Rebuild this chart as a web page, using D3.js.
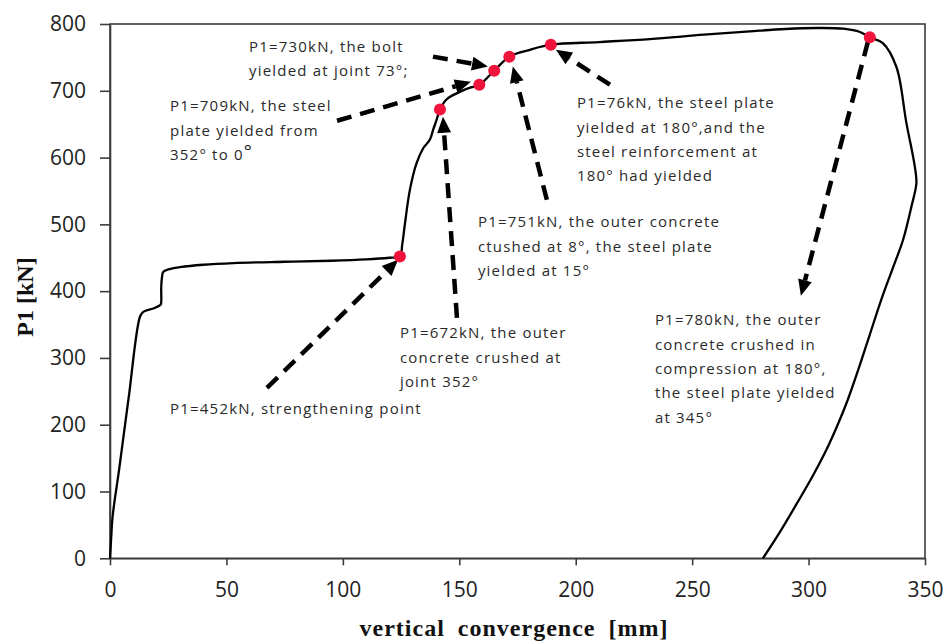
<!DOCTYPE html>
<html>
<head>
<meta charset="utf-8">
<script src="https://cdn.jsdelivr.net/npm/d3@7/dist/d3.min.js"></script>
<style>
  html, body { margin: 0; padding: 0; background: #fff; }
  svg { display: block; }
</style>
</head>
<body>
<script>
// Load–convergence curve (vertical convergence in mm, P1 in kN)
const convMm = [0, 0.5, 1.1, 4, 8, 12.9, 14.3, 18.6, 21.5, 21.9, 22.0, 22.3, 22.9, 26, 30, 40, 53, 75, 95, 110, 120, 124.5,
  125.5, 126.7, 128.8, 131.7, 134.5, 137.4, 138.8, 140.3, 141.7, 144.5, 150, 155, 158.6, 165, 171.5, 180, 189.3,
  210, 231.9, 255, 274.8, 290, 303.4, 314.9, 322.1, 326.3, 331.9, 337.7, 342, 345.6, 346.3, 344.2, 340.6, 335.9,
  331.2, 326.3, 321.6, 316.8, 312.5, 307.6, 301.6, 294.8, 287.8, 280.4];
const loadKN = [0, 30, 62, 135, 240, 362, 369, 374, 379, 381, 405, 420, 429, 433.5, 436, 439.5, 442, 444, 445.5, 447.5, 450, 452,
  470, 502, 552, 592, 614, 627, 642, 657, 672, 687, 698, 705, 709, 730, 751, 761, 769,
  773, 777.5, 784, 789, 792.5, 794, 793, 788, 780, 771.5, 736, 652, 587, 562, 527, 477, 432,
  387, 335, 285, 237, 200, 162, 122, 81, 40, 0];

// Key events marked on the curve
const keyConv = [124.5, 141.7, 158.6, 165, 171.5, 189.3, 326.3];
const keyLoad = [452, 672, 709, 730, 751, 769, 780];

// Axis ticks
const xTicks = [0, 50, 100, 150, 200, 250, 300, 350];
const yTicks = [0, 100, 200, 300, 400, 500, 600, 700, 800];

// Callout texts, each with its arrow (tail -> head) and text anchor, in axis units
const callouts = [
  { lines: ["P1=452kN, strengthening point"], text: [25.8, 223.7], from: [67.4, 255.2], to: [123.7, 446.9] },
  { lines: ["P1=672kN, the outer", "concrete crushed at", "joint 352°"], text: [124.5, 337.5], from: [149.0, 360.0], to: [143.0, 661.1] },
  { lines: ["P1=709kN, the steel", "plate yielded from", "352° to 0"], sup: 2, text: [25.8, 677.6], from: [97.5, 655.1], to: [155.0, 713.5] },
  { lines: ["P1=730kN, the bolt", "yielded at joint 73°;"], text: [59.7, 766.4], from: [138.7, 751.2], to: [162.3, 736.3] },
  { lines: ["P1=751kN, the outer concrete", "ctushed at 8°, the steel plate", "yielded at 15°"], text: [158.0, 503.8], from: [187.6, 536.8], to: [173.0, 736.3] },
  { lines: ["P1=76kN, the steel plate", "yielded at 180°,and the", "steel reinforcement at", "180° had yielded"], text: [200.5, 682.1], from: [214.7, 709.1], to: [191.5, 761.5] },
  { lines: ["P1=780kN, the outer", "concrete crushed in", "compression at 180°,", "the steel plate yielded", "at 345°"], text: [234.0, 357.0], from: [325.5, 773.5], to: [296.7, 393.0] }
];

const W = 945, H = 641;
const svg = d3.select("body").append("svg").attr("width", W).attr("height", H);

const x = d3.scaleLinear().domain([0, 350]).range([110, 925]);
const y = d3.scaleLinear().domain([0, 800]).range([558.3, 24]);

const axisColor = "#3c3c3c";
const tickFont = "'Open Sans', 'Noto Sans', sans-serif";

// Plot frame
svg.append("rect")
  .attr("x", x(0)).attr("y", y(800))
  .attr("width", x(350) - x(0)).attr("height", y(0) - y(800))
  .attr("fill", "none").attr("stroke", axisColor).attr("stroke-width", 1.6);

// Y axis
const yAxis = svg.append("g")
  .attr("transform", `translate(${x(0)},0)`)
  .call(d3.axisLeft(y).tickValues(yTicks).tickSize(10).tickPadding(14).tickSizeOuter(0));
// X axis
const xAxis = svg.append("g")
  .attr("transform", `translate(0,${y(0)})`)
  .call(d3.axisBottom(x).tickValues(xTicks).tickSize(7).tickPadding(17).tickSizeOuter(0));

[xAxis, yAxis].forEach(g => {
  g.select(".domain").attr("stroke", axisColor).attr("stroke-width", 1.6);
  g.selectAll(".tick line").attr("stroke", axisColor).attr("stroke-width", 1.6);
  g.selectAll(".tick text")
    .attr("font-family", tickFont).attr("font-size", 21).attr("fill", "#222");
});

// Axis titles
svg.append("text")
  .attr("x", 514).attr("y", 636)
  .attr("text-anchor", "middle")
  .attr("font-family", "'Liberation Serif', 'Times New Roman', serif")
  .attr("font-weight", "bold").attr("font-size", 24)
  .attr("letter-spacing", 1).attr("word-spacing", 6)
  .attr("fill", "#111")
  .text("vertical convergence [mm]");

svg.append("text")
  .attr("transform", "translate(33,297) rotate(-90)")
  .attr("text-anchor", "middle")
  .attr("font-family", "'Liberation Serif', 'Times New Roman', serif")
  .attr("font-weight", "bold").attr("font-size", 24)
  .attr("fill", "#111")
  .text("P1 [kN]");

// Curve
const pts = convMm.map((d, i) => [d, loadKN[i]]);
const line = d3.line()
  .x(d => x(d[0])).y(d => y(d[1]))
  .curve(d3.curveCatmullRom.alpha(0.5));
svg.append("path")
  .datum(pts)
  .attr("d", line)
  .attr("fill", "none").attr("stroke", "#000").attr("stroke-width", 2.3)
  .attr("stroke-linejoin", "round");

// Callout arrows and texts
const annFont = "'Open Sans', 'Noto Sans', sans-serif";
const lineH = 24.4;
const ann = svg.append("g");
callouts.forEach(c => {
  const x1 = x(c.from[0]), y1 = y(c.from[1]);
  const x2 = x(c.to[0]), y2 = y(c.to[1]);
  const ang = Math.atan2(y2 - y1, x2 - x1);
  const headL = 16, headW = 7;
  const bx = x2 - headL * Math.cos(ang), by = y2 - headL * Math.sin(ang);
  ann.append("line")
    .attr("x1", x1).attr("y1", y1).attr("x2", bx).attr("y2", by)
    .attr("stroke", "#000").attr("stroke-width", 4.5)
    .attr("stroke-dasharray", "15,9");
  const px = -Math.sin(ang), py = Math.cos(ang);
  ann.append("polygon")
    .attr("points", [[x2, y2], [bx + px * headW, by + py * headW], [bx - px * headW, by - py * headW]].map(p => p.join(",")).join(" "))
    .attr("fill", "#000");

  const t = ann.append("text")
    .attr("font-family", annFont).attr("font-size", 15)
    .attr("letter-spacing", 1.2).attr("fill", "#2a2a2a");
  c.lines.forEach((s, i) => {
    t.append("tspan")
      .attr("x", x(c.text[0]))
      .attr("y", y(c.text[1]) + i * lineH)
      .attr("dy", "0.36em")
      .text(s);
    if (c.sup === i) {
      // larger raised degree mark after the last value
      t.append("tspan").attr("font-size", 19).attr("dy", "-0.1em").text("°");
    }
  });
});

// Key-event markers
svg.append("g").selectAll("circle")
  .data(keyConv.map((d, i) => [d, keyLoad[i]]))
  .join("circle")
  .attr("cx", d => x(d[0])).attr("cy", d => y(d[1]))
  .attr("r", 6).attr("fill", "#f0143c");
</script>
</body>
</html>
